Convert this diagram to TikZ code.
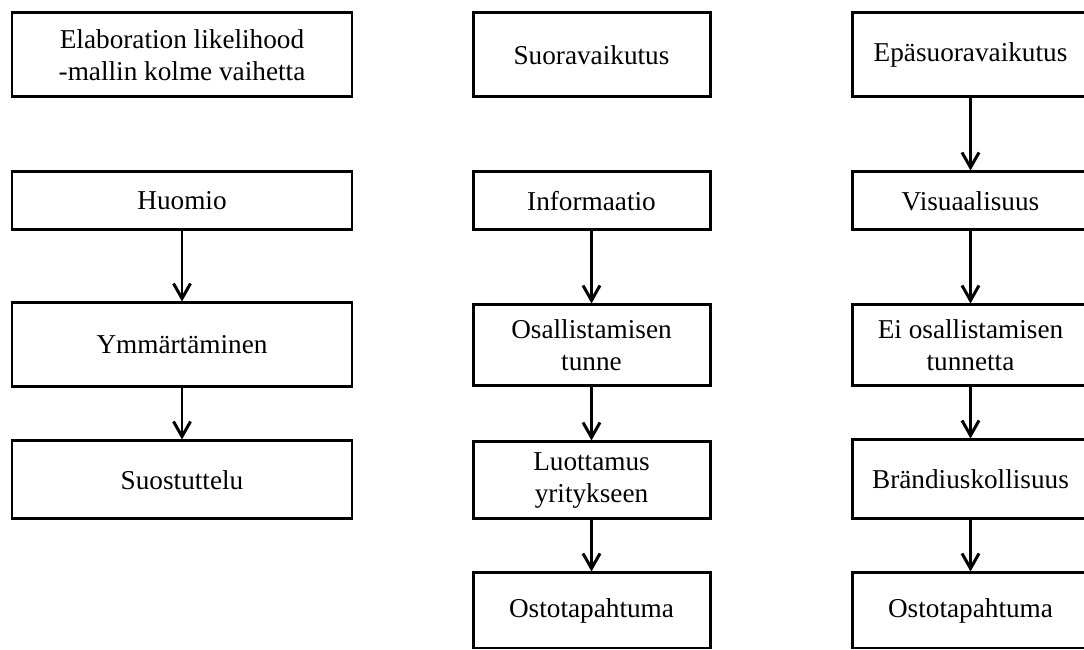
\documentclass[tikz,border=0pt]{standalone}
\usepackage{fontspec}
\setmainfont{Liberation Serif}
\usepackage{tikz}
\usetikzlibrary{arrows.meta}
\tikzset{
         stage/.style={rectangle,draw,line width=1.7pt,align=center,inner sep=0pt,
          font=\fontsize{15.5}{18.2}\selectfont},
         wide/.style={stage,minimum width=6.8cm},
         narrow/.style={stage,minimum width=4.74cm},
         flow/.style={line width=1.7pt,-{Straight Barb[length=.3cm,width=.34cm,line width=1.7pt]}}
        }
\begin{document}
\begin{tikzpicture}
\useasboundingbox(0,0)rectangle(21.68,13);
\clip(0,0)rectangle(21.68,13);
\fill[white](0,0)rectangle(21.68,13);
%elaboration likelihood
\node[wide,minimum height=1.68cm](elm)at(3.64,11.9){Elaboration likelihood\\-mallin kolme vaihetta};
\node[wide,minimum height=1.16cm](huomio)at(3.64,8.98){Huomio};
\node[wide,minimum height=1.68cm](ymmarrys)at(3.64,6.1){Ymmärtäminen};
\node[wide,minimum height=1.56cm](suostuttelu)at(3.64,3.4){Suostuttelu};
%suoravaikutus
\node[narrow,minimum height=1.68cm](suora)at(11.83,11.9){Suoravaikutus};
\node[narrow,minimum height=1.16cm](informaatio)at(11.83,8.98){Informaatio};
\node[narrow,minimum height=1.62cm](osallistaminen)at(11.83,6.09){Osallistamisen\\tunne};
\node[narrow,minimum height=1.54cm](luottamus)at(11.83,3.39){Luottamus\\yritykseen};
\node[narrow,minimum height=1.5cm](osto)at(11.83,.79){Ostotapahtuma};
%epasuoravaikutus
\node[narrow,minimum height=1.68cm](epasuora)at(19.41,11.9){Epäsuoravaikutus};
\node[narrow,minimum height=1.16cm](visuaalisuus)at(19.41,8.98){Visuaalisuus};
\node[narrow,minimum height=1.62cm](eiosallistaminen)at(19.41,6.09){Ei osallistamisen\\tunnetta};
\node[narrow,minimum height=1.58cm](brandi)at(19.41,3.41){Brändiuskollisuus};
\node[narrow,minimum height=1.5cm](osto2)at(19.41,.79){Ostotapahtuma};
%arrows
\foreach \a/\b in {huomio/ymmarrys,ymmarrys/suostuttelu,
informaatio/osallistaminen,osallistaminen/luottamus,luottamus/osto,
epasuora/visuaalisuus,visuaalisuus/eiosallistaminen,eiosallistaminen/brandi,brandi/osto2}{
\draw[flow](\a.south)--(\b.north);
}
\end{tikzpicture}
\end{document}
